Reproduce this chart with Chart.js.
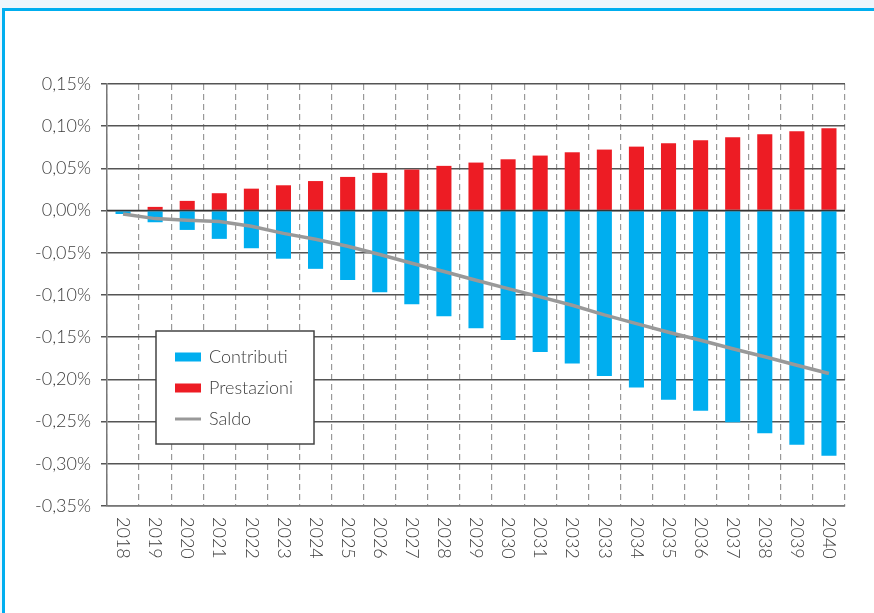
<!DOCTYPE html>
<html lang="it">
<head>
  <meta charset="UTF-8">
  <title>Contributi, prestazioni e saldo</title>
  <script src="https://cdn.jsdelivr.net/npm/chart.js"></script>
  <style>
    html, body {
      margin: 0;
      padding: 0;
      width: 874px;
      height: 613px;
      overflow: hidden;
      background: #eef6fc;
    }
    .frame {
      position: absolute;
      left: 2px;
      top: 8px;
      width: 900px;
      height: 700px;
      border-left: 3px solid #00aeef;
      border-top: 3px solid #00aeef;
      background: #ffffff;
    }
    #chart {
      position: absolute;
      left: 0;
      top: 0;
    }
  </style>
</head>
<body>
  <div class="frame"></div>
  <canvas id="chart" width="874" height="613"></canvas>
  <script>
    // data (values in %)
    const years = ['2018', '2019', '2020', '2021', '2022', '2023', '2024', '2025', '2026', '2027', '2028', '2029',
                   '2030', '2031', '2032', '2033', '2034', '2035', '2036', '2037', '2038', '2039', '2040'];
    const contributi = [-0.004, -0.0138, -0.0229, -0.0335, -0.0446, -0.057, -0.069, -0.0821, -0.0968, -0.111, -0.1252, -0.1394,
                        -0.1532, -0.1674, -0.1813, -0.1959, -0.2097, -0.224, -0.237, -0.2507, -0.2637, -0.2773, -0.2906];
    const prestazioni = [0, 0.0044, 0.0115, 0.0206, 0.026, 0.030, 0.035, 0.0399, 0.0447, 0.0486, 0.053, 0.0569,
                         0.0608, 0.0652, 0.0691, 0.0723, 0.0758, 0.0799, 0.0834, 0.087, 0.0905, 0.094, 0.0976];
    const saldo = [-0.004, -0.0095, -0.0114, -0.013, -0.0186, -0.027, -0.034, -0.0422, -0.052, -0.0624, -0.0722, -0.0825,
                   -0.0924, -0.1022, -0.1122, -0.1236, -0.1339, -0.1441, -0.1536, -0.1637, -0.1732, -0.1833, -0.193];
    const yTicks = { min: -0.35, max: 0.15, step: 0.05 };

    const blue = '#00aeef';
    const red = '#ed1c24';
    const grey = '#999999';
    const textColor = '#3d3d3d';
    const fontFamily = 'Lato, "Open Sans", sans-serif';

    const fmtPct = v => (Math.abs(v) < 1e-9 ? 0 : v).toFixed(2).replace('.', ',') + '%';

    // zero line over the bars, rotated year labels, boxed legend
    const extras = {
      id: 'extras',
      beforeDatasetDraw(chart, args) {
        if (args.index !== 2) return;
        const ctx = chart.ctx;
        const y = chart.scales.y.getPixelForValue(0);
        ctx.save();
        ctx.strokeStyle = '#333333';
        ctx.lineWidth = 1.5;
        ctx.beginPath();
        ctx.moveTo(chart.chartArea.left, y);
        ctx.lineTo(chart.chartArea.right, y);
        ctx.stroke();
        ctx.restore();
      },
      afterDraw(chart) {
        const ctx = chart.ctx;
        const xs = chart.scales.x;
        ctx.save();
        ctx.fillStyle = textColor;
        ctx.font = '300 18px ' + fontFamily;
        ctx.textAlign = 'left';
        ctx.textBaseline = 'middle';
        years.forEach((yr, i) => {
          ctx.save();
          ctx.translate(xs.getPixelForValue(i), chart.chartArea.bottom + 11);
          ctx.rotate(Math.PI / 2);
          ctx.fillText(yr, 0, 0);
          ctx.restore();
        });

        // legend box
        const bx = 156, by = 331, bw = 158, bh = 113;
        ctx.fillStyle = '#ffffff';
        ctx.fillRect(bx, by, bw, bh);
        ctx.strokeStyle = '#444444';
        ctx.lineWidth = 1.5;
        ctx.strokeRect(bx, by, bw, bh);
        const items = chart.data.datasets.map(ds => ds);
        const order = [0, 1, 2];
        order.forEach((k, i) => {
          const ds = items[k];
          const cy = 357 + i * 31;
          if (ds.type === 'line') {
            ctx.strokeStyle = ds.borderColor;
            ctx.lineWidth = 3;
            ctx.beginPath();
            ctx.moveTo(175, cy);
            ctx.lineTo(201, cy);
            ctx.stroke();
          } else {
            ctx.fillStyle = ds.backgroundColor;
            ctx.fillRect(175, cy - 4.5, 26, 9);
          }
          ctx.fillStyle = textColor;
          ctx.font = '300 18px ' + fontFamily;
          ctx.fillText(ds.label, 209, cy);
        });
        ctx.restore();
      }
    };

    const ctx = document.getElementById('chart').getContext('2d');
    const chart = new Chart(ctx, {
      data: {
        labels: years,
        datasets: [
          { type: 'bar', label: 'Contributi', data: contributi, backgroundColor: blue, stack: 'cp', order: 2,
            barPercentage: 0.47, categoryPercentage: 1 },
          { type: 'bar', label: 'Prestazioni', data: prestazioni, backgroundColor: red, stack: 'cp', order: 2,
            barPercentage: 0.47, categoryPercentage: 1 },
          { type: 'line', label: 'Saldo', data: saldo, borderColor: grey, borderWidth: 3.5, pointRadius: 0,
            tension: 0, fill: false, stack: 'saldo', order: 1 }
        ]
      },
      options: {
        responsive: false,
        animation: false,
        layout: { padding: { left: 0, right: 29, top: 84, bottom: 0 } },
        plugins: {
          legend: { display: false },
          tooltip: { enabled: false }
        },
        scales: {
          x: {
            stacked: true,
            offset: true,
            ticks: { display: false },
            grid: { display: true, offset: true, color: grey, lineWidth: 1.2, drawTicks: false },
            border: { display: true, color: '#777777', width: 1.5, dash: [6, 4] },
            afterFit(scale) { scale.height = 107; }
          },
          y: {
            stacked: true,
            min: yTicks.min,
            max: yTicks.max,
            ticks: {
              stepSize: yTicks.step,
              padding: 10,
              color: textColor,
              font: { family: fontFamily, size: 18, weight: '300' },
              callback: v => fmtPct(v)
            },
            grid: { color: '#555555', lineWidth: 1.5, tickLength: 6 },
            border: { display: true, color: '#777777', width: 1.5 },
            afterFit(scale) { scale.width = 107; }
          }
        }
      },
      plugins: [extras]
    });
  </script>
</body>
</html>
